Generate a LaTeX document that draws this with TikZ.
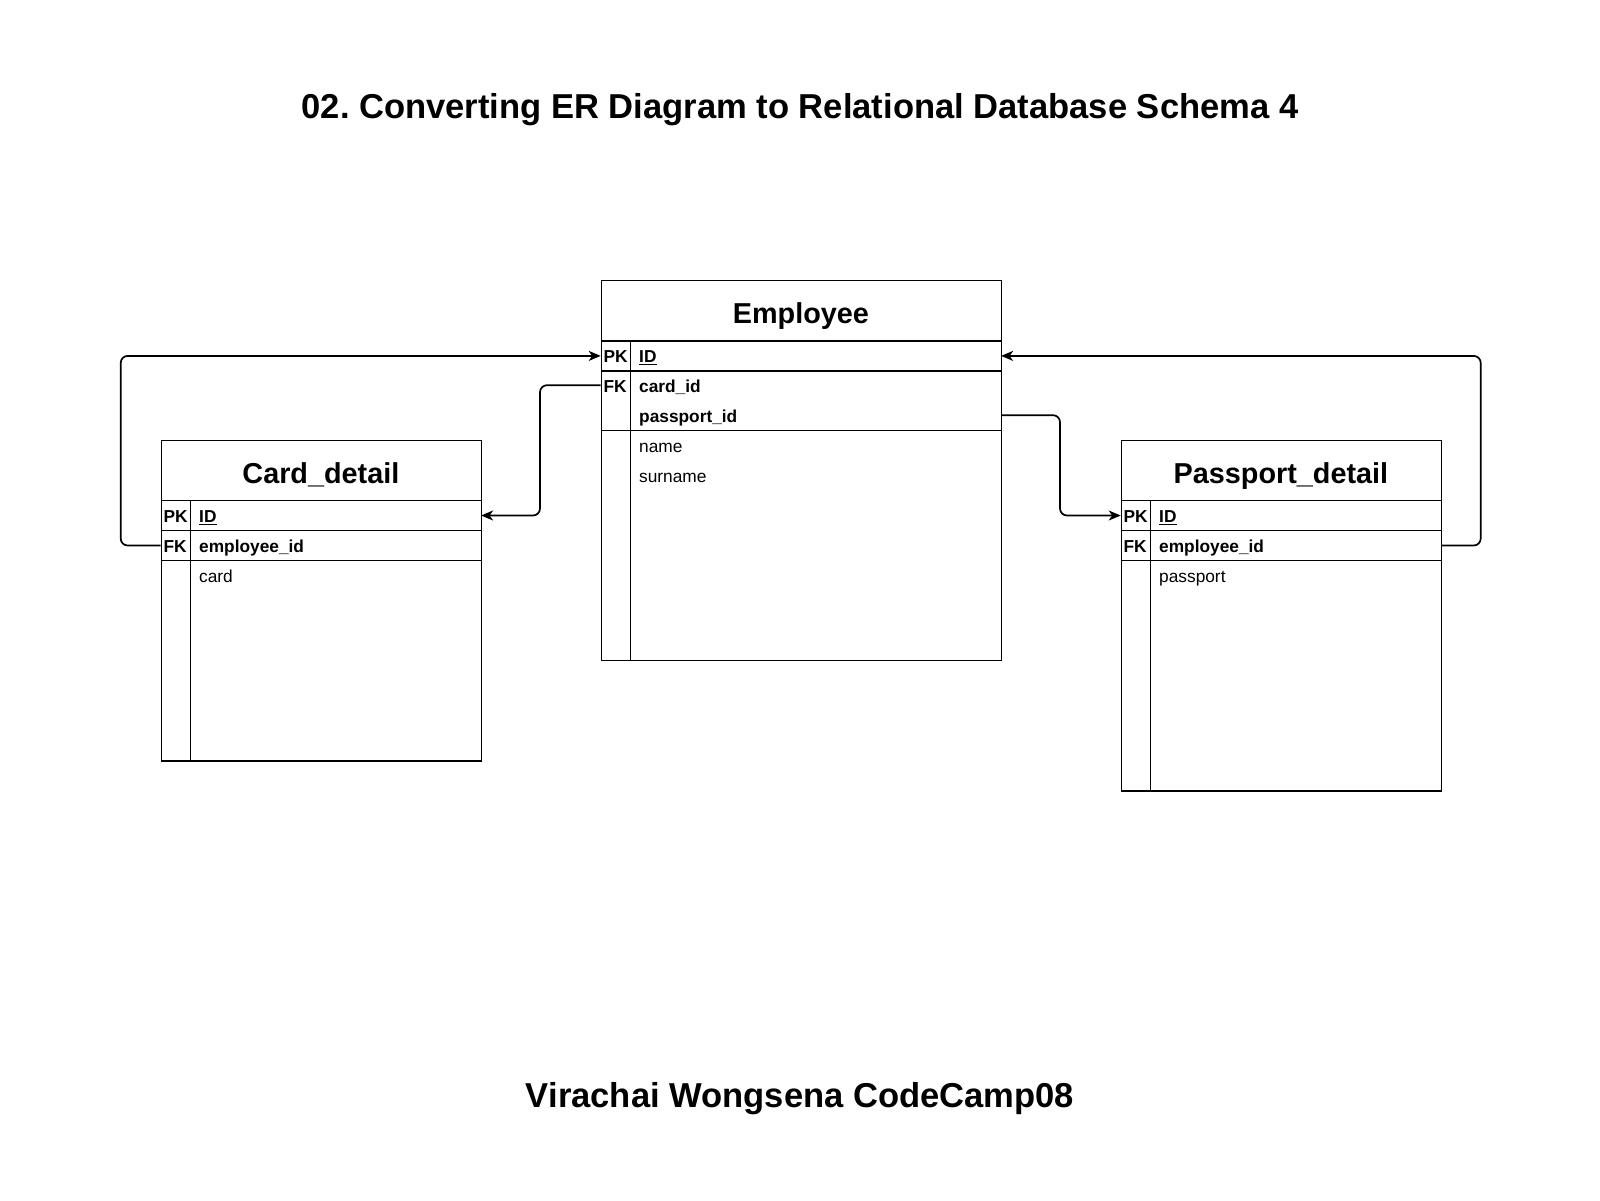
\documentclass[tikz,border=0pt]{standalone}
\usepackage{fontspec}
\setmainfont{Liberation Sans}
\usetikzlibrary{arrows.meta}
\frenchspacing
\tikzset{
  ln/.style={line width=1.4pt},
  outer/.style={draw, ln, anchor=north west, inner sep=0pt},
  hdr/.style={anchor=north west, inner sep=0pt, minimum height=60.5pt, text height=26.06pt, text depth=6.1pt, yshift=-3pt, font=\fontsize{28.8}{32}\selectfont\bfseries},
  rowbox/.style={anchor=north west, inner sep=0pt, minimum height=30pt},
  keytxt/.style={anchor=west, inner sep=0pt, text height=15.66pt, text depth=3.67pt, yshift=-1pt, font=\fontsize{17.3}{20}\selectfont\bfseries},
  fldtxt/.style={anchor=west, inner sep=0pt, text height=15.66pt, text depth=3.67pt, yshift=-1pt, font=\fontsize{17.3}{20}\selectfont},
  conn/.style={line width=1.7pt, rounded corners=7pt, -{Stealth[length=12pt,width=10pt,inset=3.5pt]}},
  big/.style={inner sep=0pt, text height=31.28pt, text depth=7.33pt, font=\fontsize{34.56}{40}\selectfont\bfseries},
}
\newcommand{\erow}[6]{%
  \node[rowbox, minimum width=#4pt] (#1) at (#2,#3) {};
  \node[keytxt] (#1k) at ([xshift=2.6pt]#1.west) {#5};
  \node[fldtxt] (#1f) at ([xshift=38.3pt]#1.west) {#6};
}
\begin{document}
\begin{tikzpicture}[x=1pt,y=-1pt]
\useasboundingbox (0,0) rectangle (1600,1200);

% titles
\node[big] (title) at (800,107) {02. Converting ER Diagram to Relational Database Schema 4};
\node[big] (footer) at (800,1096) {Virachai Wongsena CodeCamp08};

% Employee
\node[outer, minimum width=400pt, minimum height=380pt] (emp) at (600.7,280) {};
\node[hdr, minimum width=400pt] (empT) at (600.7,280) {Employee};
\erow{empPK}{600.7}{340.7}{400}{PK}{\bfseries\underline{ID}}
\erow{empFKa}{600.7}{370}{400}{FK}{\bfseries card\_id}
\erow{empFKb}{600.7}{400}{400}{}{\bfseries passport\_id}
\erow{empA}{600.7}{430}{400}{}{name}
\erow{empB}{600.7}{460}{400}{}{surname}
\draw[ln] ([yshift=3pt]empT.south west) -- ([yshift=3pt]empT.south east);
\draw[ln] (empPK.south west) -- (empPK.south east);
\draw[ln] (empFKb.south west) -- (empFKb.south east);
\draw[ln] (empPK.north west) ++(30,0) -- ([xshift=30pt]emp.south west);

% Card_detail
\node[outer, minimum width=320pt, minimum height=320.3pt] (card) at (160.7,440) {};
\node[hdr, minimum width=320pt] (cardT) at (160.7,440) {Card\_detail};
\erow{cardPK}{160.7}{500.3}{320}{PK}{\bfseries\underline{ID}}
\erow{cardFK}{160.7}{530.3}{320}{FK}{\bfseries employee\_id}
\erow{cardA}{160.7}{560.3}{320}{}{card}
\draw[ln] (cardPK.north west) -- (cardPK.north east);
\draw[ln] (cardPK.south west) -- (cardPK.south east);
\draw[ln] (cardFK.south west) -- (cardFK.south east);
\draw[ln] (cardPK.north west) ++(30,0) -- ([xshift=30pt]card.south west);

% Passport_detail
\node[outer, minimum width=320pt, minimum height=350.3pt] (pass) at (1120.7,440) {};
\node[hdr, minimum width=320pt] (passT) at (1120.7,440) {Passport\_detail};
\erow{passPK}{1120.7}{500.3}{320}{PK}{\bfseries\underline{ID}}
\erow{passFK}{1120.7}{530.3}{320}{FK}{\bfseries employee\_id}
\erow{passA}{1120.7}{560.3}{320}{}{passport}
\draw[ln] (passPK.north west) -- (passPK.north east);
\draw[ln] (passPK.south west) -- (passPK.south east);
\draw[ln] (passFK.south west) -- (passFK.south east);
\draw[ln] (passPK.north west) ++(30,0) -- ([xshift=30pt]pass.south west);

% connector bend points
\coordinate (bL) at (120.7,0);
\coordinate (bCL) at (540,0);
\coordinate (bCR) at (1060,0);
\coordinate (bR) at (1480.7,0);

\draw[conn] (cardFK.west) -- (cardFK.west -| bL) |- (empPK.west);
\draw[conn] (empFKa.west) -- (empFKa.west -| bCL) |- (cardPK.east);
\draw[conn] (empFKb.east) -- (empFKb.east -| bCR) |- (passPK.west);
\draw[conn] (passFK.east) -- (passFK.east -| bR) |- (empPK.east);
\end{tikzpicture}
\end{document}
